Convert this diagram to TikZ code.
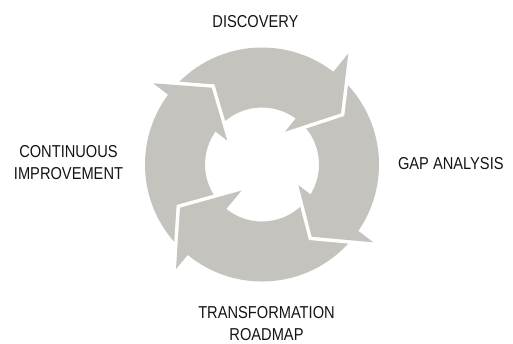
\documentclass[tikz,border=0pt]{standalone}
\usepackage{fontspec}
\setmainfont{Liberation Sans}[FakeStretch=0.85]
\definecolor{ringgray}{RGB}{196,195,190}
\begin{document}
\begin{tikzpicture}[x=1bp,y=-1bp,
  lbl/.style={font=\fontsize{17.3}{22}\selectfont, align=center, inner sep=0pt, text=black!92},
  gapline/.style={white, line width=7bp, line join=miter},
  headfill/.style={fill=ringgray}]
\useasboundingbox (0,0) rectangle (513,343);
\coordinate (C) at (262,164.5);
% ring
\fill[ringgray, even odd rule] (C) circle[radius=117] (C) circle[radius=57];
% arrow heads: outer barb, tip, inner barb
\coordinate (h1o) at (153.3,83.3);  \coordinate (h1t) at (211.7,87.7);  \coordinate (h1i) at (227.3,140.7);
\coordinate (h2o) at (348.3,53.3);  \coordinate (h2t) at (341,113.3);   \coordinate (h2i) at (285,131.7);
\coordinate (h3o) at (373.3,242.3); \coordinate (h3t) at (311.7,236.7); \coordinate (h3i) at (298.3,185);
\coordinate (h4o) at (176,269);     \coordinate (h4t) at (180,207.7);   \coordinate (h4i) at (241.7,190.5);
\foreach \h in {h1,h2,h3,h4}{
  \draw[gapline] (\h o) -- (\h t) -- (\h i);
  \fill[headfill] (\h o) -- (\h t) -- (\h i) -- cycle;
}
% labels
\node[lbl] (disc) at (255.5,21.5) {DISCOVERY};
\node[lbl] (gap) at (450.8,163.7) {GAP ANALYSIS};
\node[lbl] (trans) at (266.5,323.5) {TRANSFORMATION\\ROADMAP};
\node[lbl] (cont) at (68.5,162.5) {CONTINUOUS\\IMPROVEMENT};
\end{tikzpicture}
\end{document}
